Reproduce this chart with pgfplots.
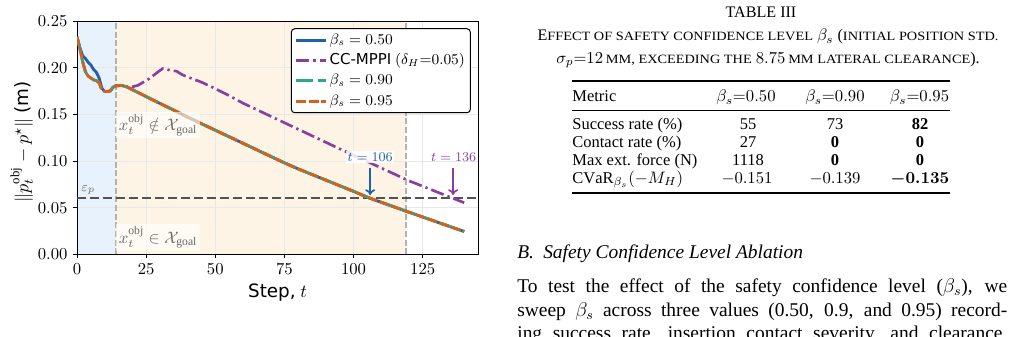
\documentclass[border=0pt]{standalone}
\usepackage{bm}
\usepackage{graphicx}
\usepackage{fontspec}
\setmainfont{Liberation Serif}
\newfontfamily\dejavu{DejaVu Sans}
\usepackage{pgfplots}
\usepackage{pgfplotstable}
\pgfplotsset{compat=1.18}
\usetikzlibrary{arrows.meta}

\definecolor{cBlue}{HTML}{2062A8}
\definecolor{cPurple}{HTML}{8A3FA0}
\definecolor{cGreen}{HTML}{2BA78A}
\definecolor{cOrange}{HTML}{D5621B}
\definecolor{bgBlue}{HTML}{E7F2FC}
\definecolor{bgOrange}{HTML}{FEF4E5}
\definecolor{txtGray}{HTML}{6A6A6A}

% small capitals for the table caption (widened capitals)
\newcommand\fsc[1]{\scalebox{1.13}[1]{\fontsize{7.6}{9}\selectfont\MakeUppercase{#1}}}

% distance to goal for the three confidence levels
\pgfplotstableread{
t    b50     b90     b95
0    0.233   0.233   0.233
1    0.222   0.221   0.221
2    0.213   0.207   0.207
3    0.210   0.196   0.196
4    0.206   0.191   0.191
5    0.203   0.189   0.189
6    0.198   0.187   0.187
7    0.195   0.186   0.186
8    0.189   0.184   0.184
9    0.178   0.176   0.176
10   0.1745  0.1745  0.1745
11   0.1745  0.1745  0.1745
12   0.175   0.175   0.175
13   0.179   0.179   0.179
14   0.1805  0.1805  0.1805
16   0.181   0.181   0.181
18   0.1795  0.1795  0.1795
20   0.1765  0.1765  0.1765
25   0.169   0.169   0.169
30   0.1617  0.1617  0.1617
35   0.1545  0.1545  0.1545
40   0.147   0.147   0.147
45   0.140   0.140   0.140
50   0.133   0.133   0.133
55   0.126   0.126   0.126
60   0.119   0.119   0.119
65   0.112   0.112   0.112
70   0.105   0.105   0.105
75   0.098   0.098   0.098
80   0.0915  0.0915  0.0915
85   0.0855  0.0855  0.0855
90   0.0795  0.0795  0.0795
95   0.0735  0.0735  0.0735
100  0.0675  0.0675  0.0675
106  0.0600  0.0600  0.0600
110  0.0558  0.0558  0.0558
115  0.0505  0.0505  0.0505
120  0.0452  0.0452  0.0452
125  0.0400  0.0400  0.0400
130  0.0348  0.0348  0.0348
135  0.0296  0.0296  0.0296
140  0.0245  0.0245  0.0245
}\betaruns

% CC-MPPI baseline
\pgfplotstableread{
t    d
0    0.233
1    0.221
2    0.207
3    0.196
4    0.191
5    0.189
6    0.187
7    0.186
8    0.184
9    0.176
10   0.1745
11   0.1745
12   0.175
13   0.179
14   0.1805
16   0.181
18   0.1795
20   0.1795
22   0.181
24   0.1845
26   0.188
28   0.1925
30   0.197
31   0.199
32   0.1985
34   0.197
36   0.1962
38   0.1925
40   0.190
45   0.1845
50   0.1775
55   0.170
60   0.162
65   0.155
70   0.148
75   0.141
80   0.134
85   0.127
90   0.120
95   0.113
100  0.1063
105  0.0994
110  0.0925
115  0.0857
120  0.0788
125  0.0730
130  0.0670
136  0.0600
140  0.0553
}\ccmppi

\begin{document}
\begin{tikzpicture}
\begin{axis}[
  at={(46.2pt,49pt)}, anchor=south west,
  scale only axis, width=240.6pt, height=140pt,
  set layers,
  xmin=0, xmax=145, ymin=0, ymax=0.25,
  xtick={0,25,...,125},
  ytick={0,0.05,0.1,0.15,0.2,0.25},
  scaled y ticks=false,
  yticklabel style={/pgf/number format/.cd, fixed, fixed zerofill, precision=2},
  tick align=outside, major tick length=2.2pt,
  tick style={black, line width=0.5pt},
  xtick pos=bottom, ytick pos=left,
  tick label style={font=\fontsize{10}{12}\selectfont},
  grid=major, grid style={line width=0.4pt, draw=black!9},
  axis line style={line width=0.6pt},
  xlabel={{\dejavu Step,} $t$},
  ylabel={$\|p_t^{\mathrm{obj}} - p^{\star}\|$ {\dejavu (m)}},
  label style={font=\fontsize{11}{13}\selectfont},
  x label style={at={(axis description cs:0.5,-0.165)}, anchor=center},
  y label style={at={(axis description cs:-0.138,0.481)}, anchor=center},
  legend style={at={(0.982,0.969)}, anchor=north east, draw=black,
    line width=0.6pt, rounded corners=2pt, fill=white,
    font=\fontsize{9}{11}\selectfont, inner xsep=2pt, inner ysep=0.8pt,
    nodes={inner sep=1.2pt, text height=7.2pt, text depth=2.6pt},
    row sep=0pt},
  legend cell align=left,
  legend image code/.code={\draw[#1, line width=1.7pt] (0pt,0pt) -- (18pt,0pt);},
]

% phase shading
\addplot[draw=none, fill=bgBlue, forget plot, on layer=axis background]
  coordinates {(0,0.25) (14,0.25)} \closedcycle;
\addplot[draw=none, fill=bgOrange, forget plot, on layer=axis background]
  coordinates {(14,0.25) (119,0.25)} \closedcycle;
\addplot[black!30, line width=1pt, dash pattern=on 3.6pt off 1.6pt, forget plot]
  coordinates {(14,0) (14,0.25)};
\addplot[black!30, line width=1pt, dash pattern=on 3.6pt off 1.6pt, forget plot]
  coordinates {(119,0) (119,0.25)};
% goal tolerance
\addplot[black!68, line width=1.3pt, dash pattern=on 5.4pt off 2.4pt, forget plot]
  coordinates {(0,0.06) (145,0.06)};

\addplot[cBlue, line width=1.7pt, line join=round] table[x=t, y=b50] {\betaruns};
\addlegendentry{$\beta_s = 0.50$}
\addplot[cPurple, line width=1.6pt, dash pattern=on 8pt off 2.4pt on 1.4pt off 2.4pt] table[x=t, y=d] {\ccmppi};
\addlegendentry{{\dejavu CC-MPPI} $(\delta_H{=}0.05)$}
\addplot[cGreen, line width=1.7pt, dash pattern=on 10pt off 3pt] table[x=t, y=b90] {\betaruns};
\addlegendentry{$\beta_s = 0.90$}
\addplot[cOrange, line width=1.7pt, dash pattern=on 6pt off 1.6pt] table[x=t, y=b95] {\betaruns};
\addlegendentry{$\beta_s = 0.95$}

% crossing markers
\addplot[cBlue, line width=1pt, -{To[length=3.5pt,width=6pt]}, forget plot]
  coordinates {(106,0.093) (106,0.0635)};
\addplot[cPurple, line width=1pt, -{To[length=3.5pt,width=6pt]}, forget plot]
  coordinates {(136,0.093) (136,0.0635)};

\node[text=cBlue, fill=white, fill opacity=0.85, text opacity=1, inner sep=1pt,
  font=\fontsize{8.5}{10}\selectfont] at (axis cs:106,0.104) {$t = 106$};
\node[text=cPurple, inner sep=1pt, font=\fontsize{8.5}{10}\selectfont]
  at (axis cs:136.2,0.104) {$t = 136$};

\node[anchor=west, text=txtGray, fill=white, fill opacity=0.6, text opacity=1,
  inner sep=1.5pt, font=\fontsize{10}{12}\selectfont]
  at (axis cs:14.1,0.1385) {$x_t^{\mathrm{obj}} \notin \mathcal{X}_{\mathrm{goal}}$};
\node[anchor=west, text=txtGray, fill=white, fill opacity=0.6, text opacity=1,
  inner sep=1.5pt, font=\fontsize{10}{12}\selectfont]
  at (axis cs:14.1,0.018) {$x_t^{\mathrm{obj}} \in \mathcal{X}_{\mathrm{goal}}$};
\node[text=txtGray, font=\fontsize{8}{10}\selectfont] at (axis cs:4.1,0.069) {$\varepsilon_p$};
\end{axis}

\useasboundingbox (0,0) rectangle (607.2pt,201.6pt);

% right column: table and section text
\begin{scope}[x=0.6pt, y=-0.6pt, yshift=201.6pt, every node/.style={inner sep=0pt}]
\node[anchor=base] at (761,17.3) {\fontsize{9.66}{11}\selectfont TABLE III};
\node[anchor=base] at (768,40.8) {\fontsize{9.66}{11}\selectfont
  E\fsc{ffect of safety confidence level} $\beta_s$ (\fsc{initial position std.}};
\node[anchor=base] at (768,63.3) {\fontsize{9.66}{11}\selectfont
  $\sigma_p{=}12\,$\fsc{mm, exceeding the} $8.75\,$\fsc{mm lateral clearance}).};

\draw[line width=1.1pt] (572,81) -- (950,81);
\draw[line width=0.6pt] (572,110) -- (950,110);
\draw[line width=1.1pt] (572,192.7) -- (950,192.7);

\begin{scope}[every node/.append style={font=\fontsize{9.9}{12}\selectfont}]
\node[anchor=base west] at (572,101.7) {Metric};
\node[anchor=base] at (746,101.7) {$\beta_s{=}0.50$};
\node[anchor=base] at (835,101.7) {$\beta_s{=}0.90$};
\node[anchor=base] at (919.5,101.7) {$\beta_s{=}0.95$};

\node[anchor=base west] at (572,129.3) {Success rate (\%)};
\node[anchor=base] at (748,129.3) {55};
\node[anchor=base] at (835,129.3) {73};
\node[anchor=base] at (920,129.3) {\textbf{82}};

\node[anchor=base west] at (572,147.7) {Contact rate (\%)};
\node[anchor=base] at (748,147.7) {27};
\node[anchor=base] at (835,147.7) {\textbf{0}};
\node[anchor=base] at (920,147.7) {\textbf{0}};

\node[anchor=base west] at (572,165.7) {Max ext. force (N)};
\node[anchor=base] at (748,165.7) {1118};
\node[anchor=base] at (835,165.7) {\textbf{0}};
\node[anchor=base] at (920,165.7) {\textbf{0}};

\node[anchor=base west] at (572,183.3) {$\mathrm{CVaR}_{\beta_s}(-M_H)$};
\node[anchor=base] at (747,183.3) {$-0.151$};
\node[anchor=base] at (835,183.3) {$-0.139$};
\node[anchor=base] at (920,183.3) {$\bm{-0.135}$};
\end{scope}

\begin{scope}[every node/.append style={font=\fontsize{11.67}{14}\selectfont}]
\node[anchor=base west] at (517,258.7) {\itshape B.\hspace{5.5pt}Safety Confidence Level Ablation};
\node[anchor=base west] at (517,292.7) {\makebox[294pt][s]{To test the effect of the safety confidence level ($\beta_s$), we}};
\node[anchor=base west] at (517,316.1) {\makebox[294pt][s]{sweep $\beta_s$ across three values (0.50, 0.9, and 0.95) record-}};
\node[anchor=base west] at (517,339.5) {\makebox[294pt][s]{ing success rate, insertion contact severity, and clearance,}};
\end{scope}
\end{scope}
\end{tikzpicture}
\end{document}
